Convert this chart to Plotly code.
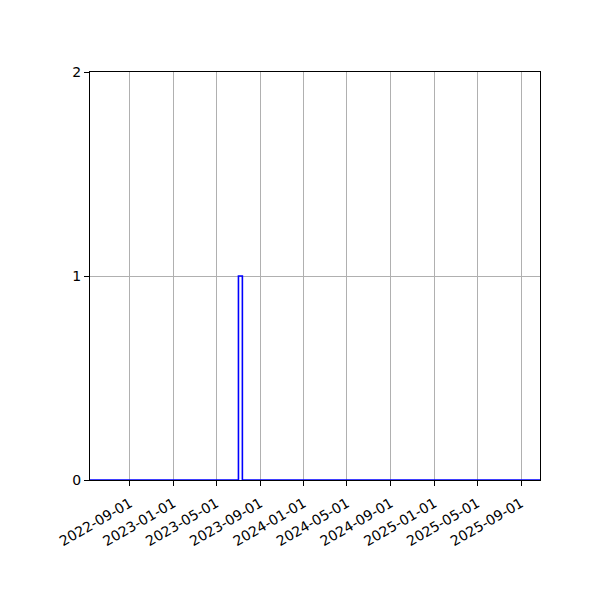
import plotly.graph_objects as go

# step series: value holds from each date until the next one
dates = ["2022-05-12", "2023-07-02", "2023-07-13", "2025-10-24"]
values = [0, 1, 0, 0]

tick_dates = ["2022-09-01", "2023-01-01", "2023-05-01", "2023-09-01", "2024-01-01",
              "2024-05-01", "2024-09-01", "2025-01-01", "2025-05-01", "2025-09-01"]
y_ticks = [0, 1, 2]

fig = go.Figure()
fig.add_trace(go.Scatter(x=dates, y=values, mode="lines", line_shape="hv",
                         line=dict(color="blue", width=1.6), showlegend=False))

# page body adds an 8px offset, so margins are shifted to compensate
fig.update_layout(
    width=600, height=600,
    margin=dict(l=82, r=68, t=64, b=128),
    plot_bgcolor="white", paper_bgcolor="white",
    font=dict(family="DejaVu Sans", size=14, color="black"),
)
fig.update_xaxes(
    range=["2022-05-12", "2025-10-24"],
    tickvals=tick_dates, ticktext=tick_dates, tickangle=-30,
    showgrid=True, gridcolor="#b0b0b0", gridwidth=1,
    showline=True, linecolor="black", linewidth=1, mirror=True,
    ticks="outside", ticklen=5, tickcolor="black", zeroline=False,
    ticklabelstandoff=4,
)
fig.update_yaxes(
    range=[0, 2], tickvals=y_ticks,
    showgrid=True, gridcolor="#b0b0b0", gridwidth=1,
    showline=True, linecolor="black", linewidth=1, mirror=True,
    ticks="outside", ticklen=5, tickcolor="black", zeroline=False,
)

fig.write_html("out.html")
